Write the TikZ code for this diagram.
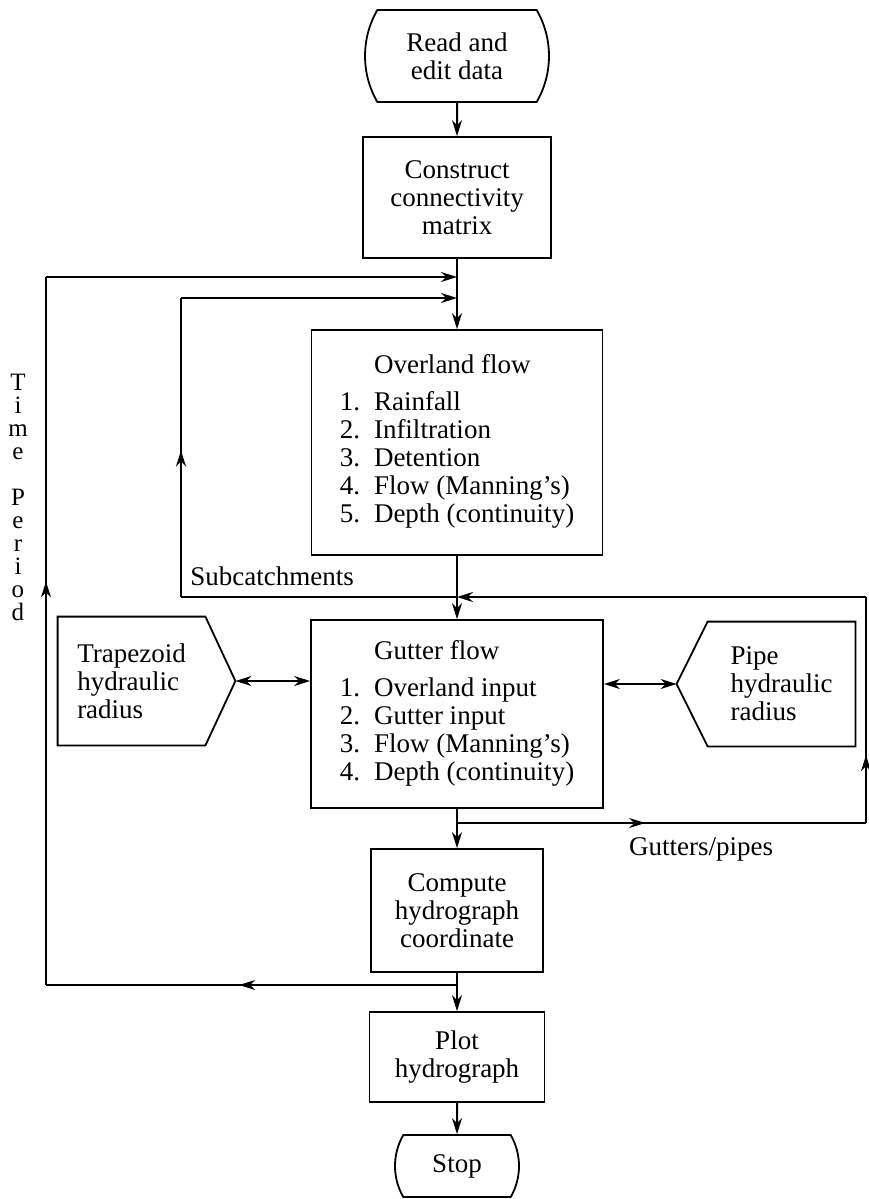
\documentclass[tikz,border=0pt]{standalone}
\usepackage{fontspec}
\setmainfont{Liberation Serif}
\usetikzlibrary{shapes.misc, arrows.meta, decorations.markings}
\tikzset{
  block/.style = {rectangle, draw, line width=0.9pt, align=center},
  terminal/.style = {rounded rectangle, rounded rectangle arc length=60, draw, line width=0.9pt, align=center},
  panel/.style = {rectangle, align=left},
  outline/.style = {line width=0.9pt, line join=miter},
  arrow/.style = {-{Stealth[length=8pt,width=5pt]}, line width=1pt},
  dblarrow/.style = {{Stealth[length=8pt,width=5pt]}-{Stealth[length=8pt,width=5pt]}, line width=1pt},
  line/.style = {line width=1pt},
  midarrow/.style = {postaction={decorate}, decoration={markings, mark=at position #1 with {\arrow{Stealth[length=8pt,width=5pt]}}}},
  tag/.style = {inner sep=0pt}
}

\begin{document}
\begin{tikzpicture}[x=0.5pt, y=-0.5pt, font=\fontsize{13.5}{14}\selectfont]
\path[use as bounding box, fill=white] (0,0) rectangle (868,1199);

% main column
\node[terminal, minimum width=82.5pt, minimum height=46pt] (read) at (457,56) {Read and\\edit data};
\node[block, minimum width=94pt, minimum height=60.5pt] (construct) at (457,197.5) {Construct\\connectivity\\matrix};
\node[block, minimum width=145.5pt, minimum height=112.5pt] (overland) at (457,442.5) {%
  \begin{tabular}{@{}l@{\hspace{7pt}}l@{}}
   & Overland flow\\[4.5pt]
  1. & Rainfall\\
  2. & Infiltration\\
  3. & Detention\\
  4. & Flow (Manning's)\\
  5. & Depth (continuity)
  \end{tabular}};
\node[block, minimum width=146pt, minimum height=94pt] (gutter) at (457,714) {%
  \begin{tabular}{@{}l@{\hspace{7pt}}l@{}}
   & Gutter flow\\[4.5pt]
  1. & Overland input\\
  2. & Gutter input\\
  3. & Flow (Manning's)\\
  4. & Depth (continuity)
  \end{tabular}};
\node[block, minimum width=86pt, minimum height=61.5pt] (compute) at (457,910.5) {Compute\\hydrograph\\coordinate};
\node[block, minimum width=87.5pt, minimum height=45pt] (plot) at (457,1057) {Plot\\hydrograph};
\node[terminal, minimum width=48.5pt, minimum height=31pt] (stop) at (457,1166) {Stop};

% side panels
\node[panel, minimum width=73.5pt, minimum height=64pt] (trap) at (131.5,681) {Trapezoid\\hydraulic\\radius};
\node[panel, minimum width=73.5pt, minimum height=62pt] (pipe) at (781.5,684) {Pipe\\hydraulic\\radius};
\draw[outline] (trap.north west) -- (trap.north east) -- ([xshift=15pt]trap.east) -- (trap.south east) -- (trap.south west) -- cycle;
\draw[outline] (pipe.north east) -- (pipe.north west) -- ([xshift=-15.5pt]pipe.west) -- (pipe.south west) -- (pipe.south east) -- cycle;

% labels
\node[tag, anchor=base west] (lsub) at (190,585) {Subcatchments};
\node[tag, anchor=base] (lgut) at (701,855) {Gutters/pipes};
\node[align=center, inner sep=0pt, font=\fontsize{12.5}{11.5}\selectfont] (ltime) at (18,497) {T\\i\\m\\e\\[11.5pt]P\\e\\r\\i\\o\\d};

% junctions
\coordinate (jtime) at (457,277);
\coordinate (jsub) at (457,298);
\coordinate (jover) at (457,597);
\coordinate (jgut) at (457,823);
\coordinate (jcomp) at (457,985);
\coordinate (t1) at (46,985);
\coordinate (t2) at (46,277);
\coordinate (s1) at (181,597);
\coordinate (s2) at (181,298);
\coordinate (r1) at (866,823);
\coordinate (r2) at (866,597);

% flow
\draw[arrow] (read) -- (construct);
\draw[arrow] (construct) -- (overland);
\draw[arrow] (overland) -- (gutter);
\draw[arrow] (gutter) -- (compute);
\draw[arrow] (compute) -- (plot);
\draw[arrow] (plot) -- (stop);
\draw[dblarrow] ([xshift=15pt]trap.east) -- (trap.east -| gutter.west);
\draw[dblarrow] (pipe.west -| gutter.east) -- ([xshift=-15.5pt]pipe.west);

% time loop
\draw[line, midarrow=0.53] (jcomp) -- (t1);
\draw[line, midarrow=0.57] (t1) -- (t2);
\draw[arrow] (t2) -- (jtime);

% subcatchment loop
\draw[line] (jover) -- (s1);
\draw[line, midarrow=0.49] (s1) -- (s2);
\draw[arrow] (s2) -- (jsub);

% gutter/pipe loop
\draw[line, midarrow=0.46] (jgut) -- (r1);
\draw[line, midarrow=0.3] (r1) -- (r2);
\draw[arrow] (r2) -- (jover);
\end{tikzpicture}
\end{document}
